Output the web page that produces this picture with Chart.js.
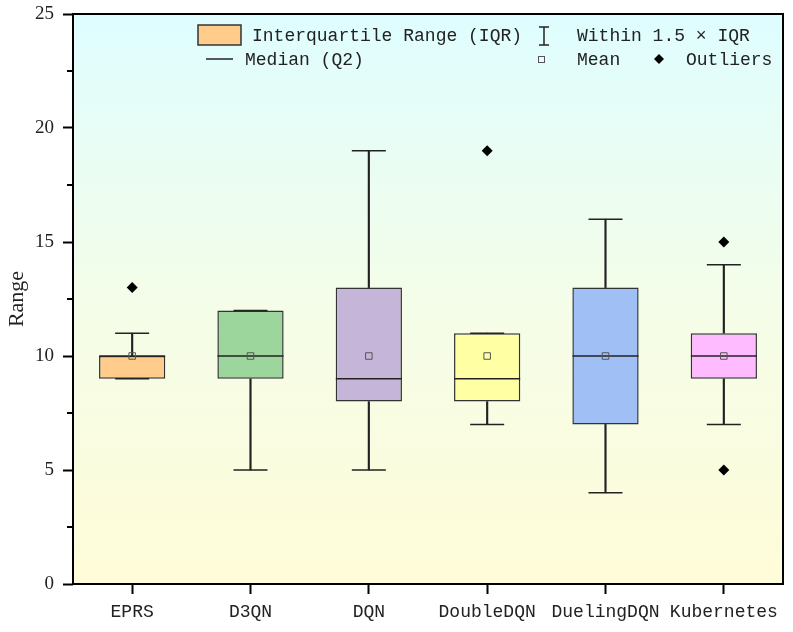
<!DOCTYPE html>
<html>
<head>
<meta charset="utf-8">
<script src="https://cdn.jsdelivr.net/npm/chart.js@4.4.1/dist/chart.umd.min.js"></script>
<style>
  html, body { margin: 0; padding: 0; background: #ffffff; }
  #wrap { width: 793px; height: 632px; }
</style>
</head>
<body>
<div id="wrap"><canvas id="c" width="793" height="632"></canvas></div>
<script>
// ---- data ----
const categories  = ['EPRS', 'D3QN', 'DQN', 'DoubleDQN', 'DuelingDQN', 'Kubernetes'];
const q1          = [9, 9, 8, 8, 7, 9];
const q3          = [10, 12, 13, 11, 13, 11];
const medians     = [10, 10, 9, 9, 10, 10];
const means       = [10, 10, 10, 10, 10, 10];
const whiskerLow  = [9, 5, 5, 7, 4, 7];
const whiskerHigh = [11, 12, 19, 11, 16, 14];
const outliers    = [[13], [], [], [19], [], [15, 5]];
const boxColors   = ['#ffcc8c', '#9cd69c', '#c5b5d9', '#ffffa3', '#a0bff5', '#ffbbff'];
const yTicks      = [0, 5, 10, 15, 20, 25];

const INK = '#222222';
const MONO = '"Liberation Mono", "DejaVu Sans Mono", monospace';
const SERIF = '"Liberation Serif", "DejaVu Serif", serif';

const outlierPoints = [];
outliers.forEach((arr, i) => arr.forEach(v => outlierPoints.push({ x: categories[i], y: v })));

const bgPlugin = {
  id: 'bg',
  beforeDatasetsDraw(chart) {
    const { ctx, chartArea: a } = chart;
    const g = ctx.createLinearGradient(0, a.top, 0, a.bottom);
    g.addColorStop(0, '#dffdff');
    g.addColorStop(0.5, '#f4fde9');
    g.addColorStop(1, '#fffcd8');
    ctx.save();
    ctx.fillStyle = g;
    ctx.fillRect(a.left, a.top, a.right - a.left, a.bottom - a.top);
    ctx.restore();
  }
};

const framePlugin = {
  id: 'frame',
  afterDraw(chart) {
    const { ctx, chartArea: a } = chart;
    const y = chart.scales.y;
    ctx.save();
    ctx.strokeStyle = '#000';
    ctx.lineWidth = 2;
    ctx.strokeRect(a.left, a.top, a.right - a.left, a.bottom - a.top);
    // minor ticks halfway between major ticks
    for (let i = 0; i < y.ticks.length - 1; i++) {
      const v = (y.ticks[i].value + y.ticks[i + 1].value) / 2;
      const py = Math.round(y.getPixelForValue(v));
      ctx.beginPath();
      ctx.moveTo(a.left - 6, py);
      ctx.lineTo(a.left, py);
      ctx.stroke();
    }
    // ---- legend ----
    ctx.font = '18px ' + MONO;
    ctx.textBaseline = 'middle';
    ctx.textAlign = 'left';
    const r1 = 35, r2 = 59;
    // IQR box
    ctx.fillStyle = boxColors[0];
    ctx.fillRect(198, 25, 43, 20);
    ctx.strokeStyle = '#333';
    ctx.lineWidth = 1.5;
    ctx.strokeRect(198, 25, 43, 20);
    ctx.fillStyle = INK;
    ctx.fillText('Interquartile Range (IQR)', 252, r1 + 1);
    // whisker icon
    ctx.strokeStyle = INK;
    ctx.beginPath();
    ctx.moveTo(544, 27); ctx.lineTo(544, 45);
    ctx.moveTo(539, 27); ctx.lineTo(549, 27);
    ctx.moveTo(539, 45); ctx.lineTo(549, 45);
    ctx.stroke();
    ctx.fillText('Within 1.5 \u00d7 IQR', 577, r1 + 1);
    // median
    ctx.beginPath();
    ctx.moveTo(206, r2); ctx.lineTo(233, r2);
    ctx.stroke();
    ctx.fillText('Median (Q2)', 245, r2 + 1);
    // mean
    ctx.lineWidth = 1;
    ctx.strokeStyle = '#555';
    ctx.strokeRect(538.5, 56.5, 6, 6);
    ctx.fillText('Mean', 577, r2 + 1);
    // outlier diamond
    ctx.beginPath();
    ctx.moveTo(659, r2 - 5); ctx.lineTo(664, r2); ctx.lineTo(659, r2 + 5); ctx.lineTo(654, r2);
    ctx.closePath();
    ctx.fillStyle = '#000';
    ctx.fill();
    ctx.fillStyle = INK;
    ctx.fillText('Outliers', 686, r2 + 1);
    ctx.restore();
  }
};

new Chart(document.getElementById('c'), {
  type: 'bar',
  data: {
    labels: categories,
    datasets: [
      {
        type: 'line', label: 'Outliers', data: outlierPoints, showLine: false,
        pointStyle: 'rectRot', pointRadius: 5.5, pointBackgroundColor: '#000',
        pointBorderColor: '#000', pointBorderWidth: 0, order: 0
      },
      {
        type: 'line', label: 'Mean', data: means, showLine: false,
        pointStyle: 'rect', pointRadius: 4.6, pointBackgroundColor: 'rgba(0,0,0,0)',
        pointBorderColor: '#555', pointBorderWidth: 1, order: 1
      },
      {
        type: 'line', label: 'Median', data: medians, showLine: false,
        pointStyle: 'line', pointRadius: 33, pointBorderColor: INK,
        pointBorderWidth: 1.5, order: 2
      },
      {
        type: 'line', label: 'Cap high', data: whiskerHigh, showLine: false,
        pointStyle: 'line', pointRadius: 17, pointBorderColor: INK,
        pointBorderWidth: 1.5, order: 3
      },
      {
        type: 'line', label: 'Cap low', data: whiskerLow, showLine: false,
        pointStyle: 'line', pointRadius: 17, pointBorderColor: INK,
        pointBorderWidth: 1.5, order: 3
      },
      {
        label: 'IQR', data: categories.map((c, i) => [q1[i], q3[i]]),
        backgroundColor: boxColors, borderColor: '#333', borderWidth: 1.5,
        borderSkipped: false, grouped: false, categoryPercentage: 1, barPercentage: 0.56,
        order: 4
      },
      {
        label: 'Whisker high', data: categories.map((c, i) => [q3[i], whiskerHigh[i]]),
        backgroundColor: INK, borderWidth: 0, grouped: false, barThickness: 1.5, order: 5
      },
      {
        label: 'Whisker low', data: categories.map((c, i) => [whiskerLow[i], q1[i]]),
        backgroundColor: INK, borderWidth: 0, grouped: false, barThickness: 1.5, order: 5
      }
    ]
  },
  options: {
    responsive: false,
    animation: false,
    devicePixelRatio: 1,
    layout: { autoPadding: false, padding: { left: 0, top: 14, right: 10, bottom: 0 } },
    plugins: { legend: { display: false }, tooltip: { enabled: false } },
    scales: {
      x: {
        offset: true,
        grid: { display: true, offset: false, drawOnChartArea: false, drawTicks: true,
                tickLength: 10, tickWidth: 2, tickColor: '#000' },
        border: { display: false },
        ticks: { font: { family: MONO, size: 18 }, color: INK, padding: 7, maxRotation: 0 },
        afterFit(s) { s.height = 48; s.paddingLeft = 0; s.paddingRight = 0; }
      },
      y: {
        min: 0, max: 25,
        afterBuildTicks(s) { s.ticks = yTicks.map(v => ({ value: v })); },
        grid: { display: true, drawOnChartArea: false, drawTicks: true,
                tickLength: 10, tickWidth: 2, tickColor: '#000' },
        border: { display: false },
        ticks: { font: { family: SERIF, size: 19 }, color: INK, padding: 9 },
        title: { display: true, text: 'Range', font: { family: SERIF, size: 22 }, color: INK,
                 padding: { top: 4, bottom: 0 } },
        afterFit(s) { s.width = 73; s.paddingTop = 0; s.paddingBottom = 0; }
      }
    }
  },
  plugins: [bgPlugin, framePlugin]
});
</script>
</body>
</html>
